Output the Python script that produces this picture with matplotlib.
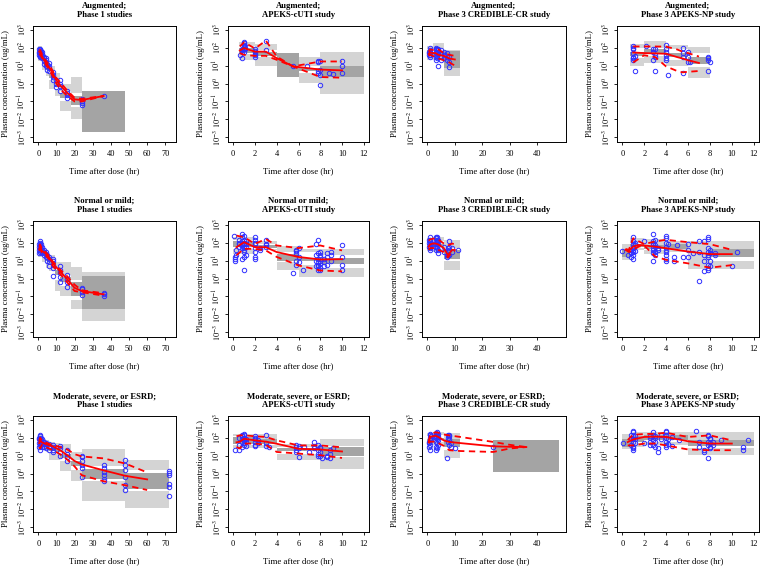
import matplotlib.pyplot as plt

plt.rcParams['font.family'] = ['Liberation Serif', 'DejaVu Serif']
plt.rcParams['mathtext.fontset'] = 'stix'

groups = ['Augmented', 'Normal or mild', 'Moderate, severe, or ESRD']
studies = ['Phase 1 studies', 'APEKS-cUTI study', 'Phase 3 CREDIBLE-CR study', 'Phase 3 APEKS-NP study']
x_max = [73, 12, 48.5, 12]
x_ticks = [[0, 10, 20, 30, 40, 50, 60, 70], [0, 2, 4, 6, 8, 10, 12],
           [0, 10, 20, 30, 40], [0, 2, 4, 6, 8, 10, 12]]
y_ticks = [1e-3, 1e-2, 1e-1, 1e0, 1e1, 1e2, 1e3]
y_labels = [r'$10^{-3}$', r'$10^{-2}$', r'$10^{-1}$', r'$10^{0}$', r'$10^{1}$', r'$10^{2}$', r'$10^{3}$']

# bins: (start, end, 5th pct CI, median CI, 95th pct CI), ug/mL
# obs: (time, [observed concentrations])
# lines: time, observed median, 5th and 95th percentile

# ---- Augmented ----
a1_bins = [(0, 2, (18, 35), (35, 60), (70, 130)), (2, 4, (6, 12), (14, 22), (25, 45)),
           (4, 6, (2.5, 5), (6, 10), (12, 20)), (6, 9, (0.5, 1.5), (2, 3.5), (5, 10)),
           (9, 12, (0.2, 0.5), (0.6, 1.2), (1.5, 4)), (12, 18, (0.03, 0.1), (0.15, 0.3), (0.4, 1.0)),
           (18, 24, (0.01, 0.05), (0.06, 0.2), (0.3, 2.3)), (24, 48, (0.002, 0.06), (0.002, 0.4), (0.06, 0.4))]
a1_obs = [(0.5, [40, 60, 80, 50]), (1, [30, 45, 70, 90, 55, 35]), (1.5, [40, 65, 50]),
          (2, [25, 35, 45, 60]), (3, [12, 18, 25, 30]), (4, [10, 14, 20, 27]), (5, [6, 9, 12]),
          (6, [5, 7, 10, 14]), (8, [1.5, 2.2, 3, 4.5]), (10, [0.6, 1, 1.6]), (12, [0.4, 0.7, 1.0, 1.5]),
          (16, [0.15, 0.22, 0.3, 0.4]), (24, [0.06, 0.08, 0.1, 0.13]), (36, [0.2])]
a1_t = [0.5, 1, 2, 3, 4, 6, 8, 10, 12, 16, 20, 24, 36]
a1_med = [60, 55, 35, 22, 15, 8, 3.5, 1.5, 0.8, 0.3, 0.13, 0.12, 0.2]
a1_lo = [45, 40, 28, 17, 12, 6, 2.5, 1.0, 0.5, 0.2, 0.1, 0.1, 0.2]
a1_hi = [80, 75, 45, 28, 20, 11, 5, 2, 1.2, 0.4, 0.16, 0.14, 0.2]

a2_bins = [(0.5, 2, (20, 45), (50, 100), (120, 220)), (2, 4, (10, 30), (35, 60), (70, 160)),
           (4, 6, (2.5, 8), (2.3, 50), (20, 50)), (6, 8, (1.05, 4), (5, 7), (10, 32)),
           (8, 12, (0.25, 2.3), (2.3, 10), (10, 54))]
a2_obs = [(0.6, [40]), (0.8, [25, 70, 90, 60]), (1.0, [100, 150, 180, 120, 80, 60, 200]),
          (1.1, [130, 90]), (2.0, [30, 40, 55, 80, 65, 45]), (3.0, [70, 250]), (5.5, [9]), (6.8, [9]),
          (7.8, [15, 17, 5, 4]), (8.0, [0.8, 3, 17, 6]), (8.8, [4]), (9.2, [3.5]), (10.0, [17, 10, 4])]
a2_t = [0.6, 1, 2, 3, 4, 5.5, 8, 10]
a2_med = [70, 95, 60, 60, 26, 9, 6, 5.4]
a2_lo = [50, 40, 35, 35, 21, 9, 2.3, 2.1]
a2_hi = [117, 200, 90, 250, 32, 9, 17, 17]

a3_bins = [(0, 2, (20, 35), (40, 70), (80, 130)), (2, 6, (20, 35), (40, 60), (90, 180)),
           (6, 12, (2.7, 7.2), (7.2, 62), (62, 76))]
a3_obs = [(0.5, [40, 60, 50]), (1, [30, 50, 70, 100, 40, 60]), (3, [20, 40, 60, 90, 100, 30]),
          (3.5, [50, 80, 25, 35]), (4, [10, 45, 70, 90]), (5, [30, 50, 70, 20]), (6, [25, 40, 60]),
          (7, [20, 30, 50]), (8, [8, 15, 30])]
a3_t = [0.5, 1, 2, 3, 4, 6, 8, 10]
a3_med = [45, 55, 50, 50, 40, 35, 25, 22]
a3_lo = [35, 40, 35, 30, 25, 20, 15, 10]
a3_hi = [60, 80, 75, 90, 80, 50, 40, 35]

a4_bins = [(0.7, 2, (9, 25), (35, 60), (100, 158)), (2, 4, (14, 35), (50, 87), (100, 224)),
           (4, 6, (9, 20), (30, 50), (80, 145)), (6, 8, (2, 8), (12.6, 32), (50, 107))]
a4_obs = [(1.0, [20, 30, 50, 80, 120, 100, 25]), (1.2, [5, 35]), (2.2, [130]), (2.8, [20, 60, 80]),
          (3.0, [5, 30, 40, 90]), (4.0, [150, 80, 40, 25, 20, 60]), (4.2, [3]), (5.5, [100, 50, 4, 30]),
          (6.0, [60, 30, 15]), (6.2, [15]), (7.8, [30, 25, 20, 5]), (8.0, [15])]
a4_t = [1, 2, 3, 4, 5, 5.5, 6, 7]
a4_med = [54, 50, 48, 46, 30, 25, 20, 14]
a4_lo = [15, 38, 30, 9, 5, 4.2, 4.5, 5]
a4_hi = [117, 117, 117, 115, 80, 60, 50, 32]

# ---- Normal or mild ----
b1_bins = [(0, 2, (15, 30), (35, 60), (70, 120)), (2, 4, (8, 15), (18, 28), (30, 50)),
           (4, 6, (4, 8), (9, 14), (15, 25)), (6, 9, (2.5, 5), (6, 10), (11, 20)),
           (9, 12, (0.2, 0.8), (1.5, 3), (4, 8)), (12, 18, (0.11, 0.4), (0.6, 1.2), (1.5, 8)),
           (18, 24, (0.019, 0.06), (0.11, 0.6), (0.8, 4.4)), (24, 48, (0.0045, 0.02), (0.02, 1.35), (1.35, 2.45))]
b1_obs = [(0.5, [25, 40, 60, 80]), (1, [30, 50, 70, 100, 120, 40]), (1.5, [35, 55, 80]), (2, [25, 40, 60]),
          (3, [20, 30, 40]), (4, [15, 22, 30]), (5, [10, 15, 20]), (6, [5, 8, 12, 16]),
          (8, [1.3, 4, 6, 9, 12]), (12, [0.6, 1.2, 2, 3, 5]), (16, [0.35, 0.6, 1, 1.6]),
          (24, [0.12, 0.18, 0.25, 0.3]), (36, [0.1, 0.13, 0.15])]
b1_t = [0.5, 1, 2, 4, 6, 8, 12, 16, 20, 24, 36]
b1_med = [45, 60, 35, 25, 15, 7, 2.5, 0.9, 0.3, 0.2, 0.13]
b1_lo = [35, 45, 28, 20, 12, 5, 1.8, 0.6, 0.2, 0.17, 0.11]
b1_hi = [60, 80, 45, 30, 18, 9, 3.2, 1.3, 0.45, 0.22, 0.15]

b2_bins = [(0, 2, (24, 45), (56, 132), (150, 204)), (2, 4, (37, 45), (50, 76), (90, 132)),
           (4, 6, (2.8, 8), (10, 24), (30, 62)), (6, 8, (1.2, 5.4), (10, 14), (30, 45)),
           (8, 12, (1.2, 3.8), (6.6, 13.8), (19.5, 46))]
b2_obs = [(0.1, [250]), (0.2, [15, 12, 10]), (0.3, [40, 20]), (0.5, [60, 80, 100, 150]),
          (0.8, [50, 90, 200, 300, 120, 70, 12]), (1.0, [40, 60, 100, 150, 250, 80, 30, 15, 3]),
          (1.2, [60, 80, 130, 20]), (2.0, [30, 50, 80, 150, 200, 100, 15, 12]), (2.5, [50, 40]),
          (3.0, [60, 90, 150, 70]), (5.5, [2]), (5.8, [40, 25, 10, 6, 35]), (6.0, [50, 15, 8]),
          (6.4, [3]), (7.6, [80, 20, 10, 5]), (7.8, [12, 8, 5, 3, 150, 25, 6]),
          (8.0, [15, 10, 7, 4, 20, 30, 3]), (8.3, [8, 12, 5]), (8.6, [6, 15, 25]), (9.0, [10, 20, 30]),
          (10.0, [70, 6, 3, 15])]
b2_t = [0.3, 1, 2, 3, 4, 6, 8, 10]
b2_med = [56, 107, 56, 56, 30, 16, 11.5, 12]
b2_lo = [20, 46, 45, 37, 16, 5.4, 2.8, 2.5]
b2_hi = [250, 200, 87, 160, 70, 50, 70, 37]

b3_bins = [(0, 2, (35, 50), (60, 90), (120, 180)), (2, 6, (30, 45), (60, 90), (130, 200)),
           (6, 12, (2.8, 10), (12.6, 37), (50, 145))]
b3_obs = [(0.5, [60, 100, 150]), (1, [40, 60, 80, 120, 200, 150, 50]), (1.5, [70, 100]),
          (3, [40, 60, 90, 130, 180, 220]), (3.5, [50, 80, 110, 150, 200]), (4, [25, 40, 70, 100, 150]),
          (6, [30, 60]), (7, [15, 20]), (7.5, [20, 35, 50]), (8, [20, 40, 60, 130]), (9, [30, 50]),
          (11, [40])]
b3_t = [0.5, 1, 2, 3, 4, 6, 7.5, 9, 10]
b3_med = [60, 80, 90, 90, 80, 50, 20, 40, 40]
b3_lo = [40, 50, 50, 50, 40, 30, 15, 30, 35]
b3_hi = [130, 150, 170, 160, 150, 90, 70, 90, 80]

b4_bins = [(0, 0.7, (11, 16), (16, 46), (46, 87)), (0.7, 2, (37, 50), (55, 80), (100, 178)),
           (2, 4, (22, 40), (45, 70), (75, 158)), (4, 6, (30, 46), (46, 87), (87, 130)),
           (6, 8, (3.5, 25), None, (25, 132)), (8, 12, (3.5, 10), (16, 46), (46, 132))]
b4_obs = [(0.0, [35]), (0.5, [20]), (0.8, [25, 40, 15]), (1.0, [30, 60, 80, 120, 200, 50, 40, 20, 12]),
          (1.2, [70, 100, 35]), (2.0, [120]), (2.8, [50, 80, 100, 120, 300, 40, 25, 10]),
          (3.0, [60, 150, 70, 30, 20]), (3.3, [50, 40]), (4.0, [30, 60, 100, 180, 250, 20, 12, 10, 40]),
          (4.2, [80]), (4.7, [15, 10]), (5.0, [70]), (5.5, [15]), (6.0, [80, 40, 15]), (6.5, [25]),
          (7.0, [0.7, 130, 30]), (7.5, [2.5, 120, 20, 10]), (7.8, [200, 160, 50, 30, 20, 15, 6, 4, 3]),
          (8.0, [40, 25, 10, 5]), (8.5, [20, 25]), (10.0, [5]), (10.5, [30])]
b4_t = [0.3, 0.6, 1, 1.5, 2, 3, 4, 6, 8, 10]
b4_med = [40, 35, 61, 75, 70, 60, 49, 32, 23, 23]
b4_lo = [40, 30, 40, 60, 70, 17, 11, 7, 4, 5.6]
b4_hi = [45, 40, 178, 120, 83, 117, 145, 107, 83, 40]

# ---- Moderate, severe, or ESRD ----
c1_bins = [(0, 2, (20, 40), (50, 80), (100, 150)), (2, 4, (20, 30), (35, 50), (60, 90)),
           (4, 6, (15, 25), (30, 40), (45, 70)), (6, 9, (6, 15), (18, 25), (30, 58)),
           (9, 12, (5.5, 12), (15, 22), (25, 50)), (12, 18, (1.35, 5), (7, 12), (15, 47)),
           (18, 24, (0.37, 1.5), (2.5, 5), (6, 16)), (24, 48, (0.03, 0.4), (0.49, 1.9), (2.5, 22)),
           (48, 72, (0.0115, 0.1), (0.135, 1.1), (1.5, 5.5))]
c1_obs = [(0.5, [30, 50, 80, 100]), (1, [20, 40, 60, 90, 120, 150]), (1.5, [40, 70, 100]),
          (2, [30, 50, 80]), (3, [30, 45, 60]), (4, [25, 35, 50]), (6, [20, 30, 45]),
          (8, [15, 20, 30, 40]), (12, [10, 15, 25, 35]), (16, [5, 8, 12, 20]),
          (24, [0.6, 2, 3, 5, 8, 10]), (36, [0.4, 0.5, 0.8, 1.2, 2, 3]),
          (48, [0.12, 0.22, 0.6, 1.5, 2.9, 5.5]), (72, [0.057, 0.18, 0.25, 0.8, 1.1, 1.3])]
c1_t = [0.5, 1, 2, 4, 6, 8, 12, 16, 20, 24, 36, 48, 60]
c1_med = [50, 70, 55, 45, 38, 33, 20, 10.5, 5, 3.2, 1.5, 0.74, 0.47]
c1_lo = [30, 25, 40, 30, 25, 20, 12, 6, 2.5, 0.8, 0.37, 0.22, 0.12]
c1_hi = [65, 100, 70, 55, 45, 40, 30, 22, 12, 9, 7, 3.6, 1.15]

c2_bins = [(0, 2, (25, 40), (45, 110), (120, 166)), (2, 4, (25, 40), (45, 80), (90, 166)),
           (4, 8, (5.5, 12), (18, 25), (30, 47)), (8, 12, (1.7, 8), (9.5, 30), (35, 87))]
c2_obs = [(0.2, [20]), (0.5, [100, 40, 20]), (0.8, [60, 80, 120, 150, 30]),
          (1.0, [40, 70, 100, 140, 160, 50]), (1.2, [60, 90, 35]), (2.0, [40, 60, 80, 100, 120, 35]),
          (2.3, [70, 50]), (3.0, [140, 50, 35]), (3.3, [30]), (5.8, [20, 30, 40, 15]), (6.0, [8, 25, 35]),
          (6.5, [30]), (7.0, [15]), (7.4, [60, 25, 35]), (7.8, [20, 40, 12, 10]), (8.0, [25, 15, 30, 10]),
          (8.2, [7]), (8.6, [10, 8]), (8.9, [7, 12, 20]), (9.2, [25])]
c2_t = [0.3, 0.6, 1, 2, 3, 4, 6, 8, 10]
c2_med = [55, 60, 87, 71, 60, 46, 24, 22, 17]
c2_lo = [30, 25, 47, 47, 40, 16, 13, 10.5, 7.4]
c2_hi = [120, 135, 135, 120, 110, 71, 37, 37, 29]

c3_bins = [(0, 2, (20, 30), (40, 80), (120, 180)), (2, 6, (40, 60), (70, 100), (150, 200)),
           (6, 12, (7.4, 20), (30, 87), (87, 190)), (24, 48, (1.2, 20), (1.2, 71), (20, 71))]
c3_obs = [(0.5, [50, 60, 30]), (1.0, [40, 70, 100, 140, 160, 20]), (1.3, [80, 120]),
          (3.0, [60, 100, 130, 170, 180, 30, 20]), (3.5, [50, 90, 150, 200, 25]), (4.0, [40, 70, 110, 160]),
          (7.0, [7]), (7.5, [60, 100, 140]), (8.0, [40, 80, 120, 150]), (8.5, [30, 50]), (10.0, [25]),
          (24.0, [30])]
c3_t = [0.5, 1, 2, 3, 4, 6, 8, 12, 24, 30, 36]
c3_med = [55, 110, 120, 130, 110, 70, 58, 50, 33, 31, 30]
c3_lo = [50, 60, 60, 60, 50, 35, 20, 18, 16, 25, 30]
c3_hi = [60, 140, 180, 200, 190, 150, 134, 110, 58, 40, 30]

c4_bins = [(0, 1, (24, 30), (30, 87), (87, 166)), (1, 2, (30, 50), (60, 120), (130, 200)),
           (2, 6, (37, 60), (71, 135), (135, 204)), (6, 12, (10.5, 25), (35, 71), (71, 204))]
c4_obs = [(0.1, [50]), (0.8, [100, 150, 40]), (1.0, [60, 80, 120, 200, 250, 30, 25, 20]),
          (1.2, [90, 130, 50]), (2.0, [50]), (2.5, [40, 60, 100, 120]), (2.8, [70, 150, 200, 40]),
          (3.0, [60, 100, 130, 30]), (3.3, [25, 15]), (3.5, [90, 140]),
          (4.0, [40, 60, 100, 150, 200, 250, 30]), (4.2, [80, 45]), (4.5, [35, 110]), (5.2, [70]),
          (6.7, [250]), (7.0, [60, 30]), (7.5, [20, 15]), (7.8, [7, 40, 60, 120, 150]),
          (8.0, [30, 50, 80, 100, 25]), (8.3, [60, 40]), (9.0, [70]), (11.0, [30, 20]), (11.5, [70])]
c4_t = [0.5, 1, 2, 3, 4, 6, 8, 10]
c4_med = [57, 80, 110, 115, 110, 63, 47, 47]
c4_lo = [37, 37, 47, 47, 37, 22, 20, 20]
c4_hi = [75, 147, 160, 166, 189, 110, 135, 71]

panels = [
    [(a1_bins, a1_obs, a1_t, a1_med, a1_lo, a1_hi), (a2_bins, a2_obs, a2_t, a2_med, a2_lo, a2_hi),
     (a3_bins, a3_obs, a3_t, a3_med, a3_lo, a3_hi), (a4_bins, a4_obs, a4_t, a4_med, a4_lo, a4_hi)],
    [(b1_bins, b1_obs, b1_t, b1_med, b1_lo, b1_hi), (b2_bins, b2_obs, b2_t, b2_med, b2_lo, b2_hi),
     (b3_bins, b3_obs, b3_t, b3_med, b3_lo, b3_hi), (b4_bins, b4_obs, b4_t, b4_med, b4_lo, b4_hi)],
    [(c1_bins, c1_obs, c1_t, c1_med, c1_lo, c1_hi), (c2_bins, c2_obs, c2_t, c2_med, c2_lo, c2_hi),
     (c3_bins, c3_obs, c3_t, c3_med, c3_lo, c3_hi), (c4_bins, c4_obs, c4_t, c4_med, c4_lo, c4_hi)],
]

W, H = 760, 567
col_left = [33, 228, 422, 617]
col_w = [143, 141, 144, 142]
row_top = [25.5, 220.5, 415.5]
row_h = 116
light = '#d4d4d4'
dark = '#a4a4a4'

fig = plt.figure(figsize=(W / 100, H / 100), dpi=100)

for r in range(3):
    for c in range(4):
        bins, obs, t, med, lo, hi = panels[r][c]
        ax = fig.add_axes([col_left[c] / W, 1 - (row_top[r] + row_h) / H, col_w[c] / W, row_h / H])
        for x0, x1, p5, p50, p95 in bins:
            for band in (p5, p95):
                ax.fill_between([x0, x1], band[0], band[1], color=light, lw=0, zorder=1)
        for x0, x1, p5, p50, p95 in bins:
            if p50 is not None:
                ax.fill_between([x0, x1], p50[0], p50[1], color=dark, lw=0, zorder=2)
        ot = [tt for tt, cs in obs for _ in cs]
        oc = [v for tt, cs in obs for v in cs]
        ax.plot(ot, oc, 'o', mfc='none', mec='#3030ff', ms=3.2, mew=0.7, zorder=3)
        ax.plot(t, med, '-', color='red', lw=1.3, zorder=4)
        ax.plot(t, lo, '--', color='red', lw=1.3, dashes=(3.5, 2.5), zorder=4)
        ax.plot(t, hi, '--', color='red', lw=1.3, dashes=(3.5, 2.5), zorder=4)

        ax.set_yscale('log')
        ax.set_ylim(10 ** -3.24, 10 ** 3.24)
        pad = x_max[c] * 0.04
        ax.set_xlim(-pad, x_max[c] + pad)
        ax.set_xticks(x_ticks[c])
        ax.set_yticks(y_ticks)
        ax.set_yticklabels(y_labels, rotation=90, va='center')
        ax.minorticks_off()
        ax.tick_params(direction='out', length=2.5, width=0.6, labelsize=6)
        ax.tick_params(axis='x', pad=3.5)
        ax.tick_params(axis='y', pad=1)
        for s in ax.spines.values():
            s.set_linewidth(0.7)
        ax.set_title(groups[r] + ';\n' + studies[c], fontsize=6.2, fontweight='bold', pad=6,
                     linespacing=1.2)
        ax.set_xlabel('Time after dose (hr)', fontsize=6.3, labelpad=7)
        ax.set_ylabel('Plasma concentration (ug/mL)', fontsize=6.3, labelpad=4)

plt.savefig('out.png', dpi=100)
